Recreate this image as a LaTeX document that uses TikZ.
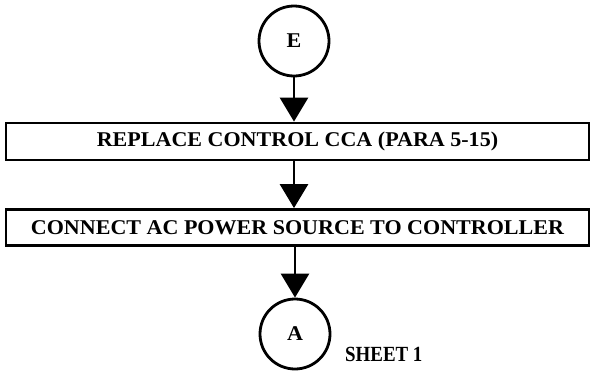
\documentclass[tikz,border=0pt]{standalone}
\usepackage{fontspec}
\usepackage{graphicx}
\setmainfont{Liberation Serif}[FakeStretch=1.05]
\usetikzlibrary{arrows.meta}
\begin{document}
\begin{tikzpicture}[x=1pt,y=-1pt,
  every node/.style={font=\fontsize{21}{23}\selectfont\bfseries},
  stepbox/.style={draw,line width=2.8pt,rectangle,inner sep=0pt},
  conn/.style={draw,circle,line width=2.8pt,minimum size=70pt,inner sep=0pt},
  flow/.style={line width=2.8pt,-{Triangle[width=28pt,length=24pt]}}]
\useasboundingbox (0,0) rectangle (592,370);
\node[conn] (e) at (294,41) {E};
\node[stepbox,minimum width=583pt,minimum height=37pt] (b1) at (297.5,141.5) {REPLACE CONTROL CCA (PARA 5-15)};
\node[stepbox,minimum width=583pt,minimum height=36pt] (b2) at (297.5,227.5) {CONNECT AC POWER SOURCE TO CONTROLLER};
\node[conn] (a) at (295,334) {A};
\node[anchor=base west,inner sep=0pt,font=\fontsize{18}{20}\selectfont\bfseries] (s) at (345,361) {\scalebox{1}[1.2]{SHEET 1}};
\draw[flow] (e.south) -- (e.south |- b1.north);
\draw[flow] (b1.south -| e.south) -- (b2.north -| e.south);
\draw[flow] (b2.south -| a.north) -- (a.north);
\end{tikzpicture}
\end{document}
